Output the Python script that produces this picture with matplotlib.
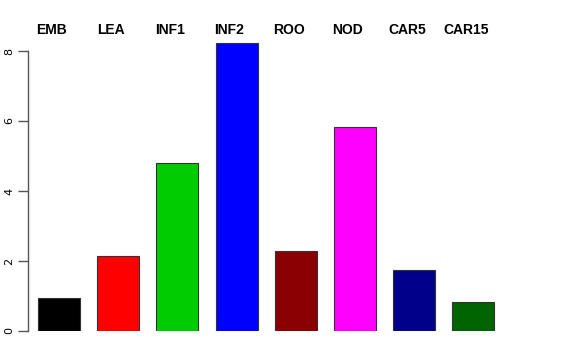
import matplotlib
matplotlib.use('Agg')
import matplotlib.pyplot as plt

labels = ['EMB', 'LEA', 'INF1', 'INF2', 'ROO', 'NOD', 'CAR5', 'CAR15']
values = [0.94, 2.14, 4.8, 8.23, 2.29, 5.83, 1.74, 0.83]
colors = ['#000000', '#FF0000', '#00CD00', '#0000FF',
          '#8B0000', '#FF00FF', '#00008B', '#006400']
yticks = [0, 2, 4, 6, 8]

W, H = 576, 360
fig = plt.figure(figsize=(W / 100, H / 100), dpi=100)

# plot region in pixels: left spine at x=28, y=0 at px 331, 35 px per unit
left_px, bottom_px, right_px, top_px = 28, 331, 540, 30
ax = fig.add_axes([left_px / W, (H - bottom_px) / H,
                   (right_px - left_px) / W, (bottom_px - top_px) / H])

step = 59.2
x0 = 59
xpos = list(range(len(labels)))
ax.bar(xpos, values, width=0.71, color=colors, edgecolor='#333333', linewidth=0.8)
ax.set_xlim((left_px - x0) / step, (right_px - x0) / step)
ax.set_ylim(0, (bottom_px - top_px) / 35)

for s in ['top', 'right', 'bottom']:
    ax.spines[s].set_visible(False)
ax.spines['left'].set_bounds(0, 8)
ax.spines['left'].set_color('#555555')
ax.spines['left'].set_linewidth(1.0)
ax.set_xticks([])
ax.set_yticks(yticks)
ax.set_yticklabels([str(t) for t in yticks], rotation=90, va='center', fontsize=8)
ax.tick_params(axis='y', length=7, width=1.0, color='#555555', pad=3)

for x, lab in zip(xpos, labels):
    ax.text(x - 0.12, 1.0, lab, transform=ax.get_xaxis_transform(),
            ha='center', va='center', fontsize=10, fontweight='bold',
            family='Liberation Sans', clip_on=False)

fig.savefig('out.png', dpi=100)
